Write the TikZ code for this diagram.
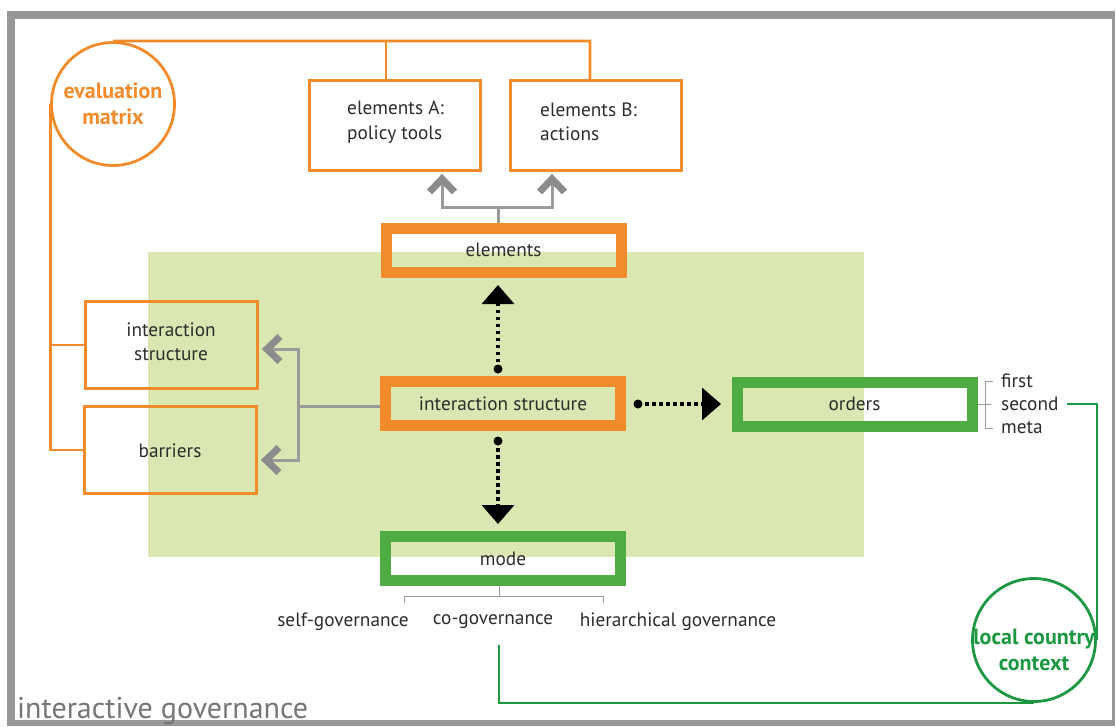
\documentclass[tikz,border=0pt]{standalone}
\usepackage{fontspec}
\setmainfont{PT Sans}
\usetikzlibrary{arrows.meta}
\definecolor{framegray}{RGB}{152,152,152}
\definecolor{orng}{RGB}{241,139,44}
\definecolor{grn}{RGB}{78,172,66}
\definecolor{dgrn}{RGB}{28,152,66}
\definecolor{pale}{RGB}{218,231,178}
\definecolor{txt}{RGB}{45,45,45}
\definecolor{conn}{RGB}{155,155,155}
\definecolor{chevgray}{RGB}{140,140,140}
\definecolor{titlegray}{RGB}{118,118,118}

\tikzset{
  thinbox/.style={draw=orng, line width=2.8pt, inner sep=0pt},
  thickbox/.style={line width=11pt, inner sep=0pt, minimum width=235pt,
    minimum height=44pt, text=txt, font=\fontsize{19.3}{22}\selectfont},
  lbl/.style={text=txt, inner sep=0pt, font=\fontsize{19.3}{24.5}\selectfont},
  ring/.style={circle, line width=2.8pt, inner sep=0pt, minimum size=123pt},
  ringtext/.style={inner sep=0pt, align=center,
    font=\bfseries\fontsize{22}{25.5}\selectfont},
  oline/.style={draw=orng, line width=2.8pt},
  dline/.style={draw=dgrn, line width=2.8pt},
  gline/.style={draw=conn, line width=3pt},
  bline/.style={draw=conn, line width=1pt},
  chev/.style={-{Straight Barb[length=13pt,width=25pt,line width'=7pt,color=chevgray]}},
  dotarrow/.style={line width=3.5pt, dash pattern=on 3.5pt off 3.5pt,
    -{Triangle[length=19pt,width=32pt]}},
}

\begin{document}
\begin{tikzpicture}[x=1pt,y=-1pt]
\useasboundingbox (0,0) rectangle (1116,726);

% frame and shaded field
\fill[white] (0,0) rectangle (1116,726);
\fill[framegray] (7,11) rectangle (1115,726);
\fill[white] (15,19) rectangle (1112,720);
\fill[pale] (148,252) rectangle (864,557);

% title
\node[anchor=base west, inner sep=0pt, text=titlegray,
      font=\fontsize{30}{32}\selectfont] (title) at (17,718) {interactive governance};

% circles
\node[ring, draw=orng] (evm) at (113,104) {};
\node[ringtext, text=orng] (evmt) at (113,104) {evaluation\\matrix};
\node[ring, draw=dgrn] (lcc) at (1034,640) {};
\node[ringtext, text=dgrn] (lcct) at (1034,650) {local country\\context};

% upper boxes
\node[thinbox, minimum width=171pt, minimum height=90pt] (boxA) at (395,125.5) {};
\node[thinbox, minimum width=171pt, minimum height=90pt] (boxB) at (596,125.5) {};
\node[lbl, anchor=west, align=left] (tA) at (347,122) {elements A:\\policy tools};
\node[lbl, anchor=west, align=left] (tB) at (540,122) {elements B:\\actions};

% left boxes
\node[thinbox, minimum width=172pt, minimum height=87pt] (isL) at (171.5,345) {};
\node[thinbox, minimum width=172pt, minimum height=87pt] (barr) at (170.5,450) {};
\node[lbl, align=center] (isLt) at (171,342) {interaction\\structure};
\node[lbl] (barrt) at (170,451) {barriers};

% central boxes
\node[thickbox, draw=orng] (elements) at (503.5,250) {elements};
\node[thickbox, draw=orng] (inter) at (503,403.5) {interaction structure};
\node[thickbox, draw=grn] (mode) at (503,558.5) {mode};
\node[thickbox, draw=grn] (orders) at (854.5,404) {orders};

% order labels
\node[lbl, anchor=west] (first) at (1001,381) {first};
\node[lbl, anchor=west] (second) at (1001,404) {second};
\node[lbl, anchor=west] (meta) at (1001,428) {meta};

% mode labels
\node[lbl] (selfg) at (343,622) {self-governance};
\node[lbl] (cog) at (493,622) {co-governance};
\node[lbl] (hierg) at (678,622) {hierarchical governance};

% helper coordinates
\coordinate (axis) at (498,0);
\coordinate (oc) at (386,41);
\coordinate (od) at (590,41);
\coordinate (ga) at (442,207);
\coordinate (gb) at (552,207);
\coordinate (gl) at (298,406);
\coordinate (ua) at (298,349);
\coordinate (la) at (298,460);
\coordinate (dotU) at (498,369);
\coordinate (tipU) at (498,285);
\coordinate (dotD) at (498,441);
\coordinate (tipD) at (498,524);
\coordinate (dotR) at (638,404);
\coordinate (tipR) at (721,404);
\coordinate (mb) at (499,596);
\coordinate (ml) at (404,596);
\coordinate (mr) at (603,596);
\coordinate (cg) at (499,645);

% orange links from the evaluation matrix
\draw[oline] (evm.north) -- (od) -- (od |- boxB.north);
\draw[oline] (oc) -- (oc |- boxA.north);
\draw[oline] (evm.west) -- (evm.west |- barr.west) -- (barr.west);
\draw[oline] (evm.west |- isL.west) -- (isL.west);

% gray links with chevron heads
\draw[gline] (elements.north -| axis) -- (axis |- ga);
\draw[gline, chev] (axis |- ga) -- (ga) -- ([yshift=-2pt]ga |- boxA.south);
\draw[gline, chev] (axis |- ga) -- (gb) -- ([yshift=-2pt]gb |- boxB.south);
\draw[gline] (inter.west |- gl) -- (gl);
\draw[gline, chev] (gl) -- (ua) -- ([xshift=3pt]ua -| isL.east);
\draw[gline, chev] (gl) -- (la) -- ([xshift=3pt]la -| barr.east);

% dotted black arrows
\fill (dotU) circle (4.5pt);
\fill (dotD) circle (4.5pt);
\fill (dotR) circle (4.5pt);
\draw[dotarrow] (dotU) -- (tipU);
\draw[dotarrow] (dotD) -- (tipD);
\draw[dotarrow] (dotR) -- (tipR);

% brackets
\draw[bline] (orders.east) -- ([xshift=-10pt]second.west);
\draw[bline] ([xshift=-8pt]first.west) -- ([xshift=-16pt]first.west)
  -- ([xshift=-16pt]meta.west) -- ([xshift=-8pt]meta.west);
\draw[bline] (mode.south -| mb) -- (mb);
\draw[bline] ([yshift=-7pt]ml) -- (ml) -- (mr) -- ([yshift=-7pt]mr);

% green links to the local country context
\draw[dline] ([xshift=8pt]second.east) -- (second.east -| lcc.east) -- (lcc.east);
\draw[dline] (cg) -- (cg |- lcc.south) -- (lcc.south);
\end{tikzpicture}
\end{document}
